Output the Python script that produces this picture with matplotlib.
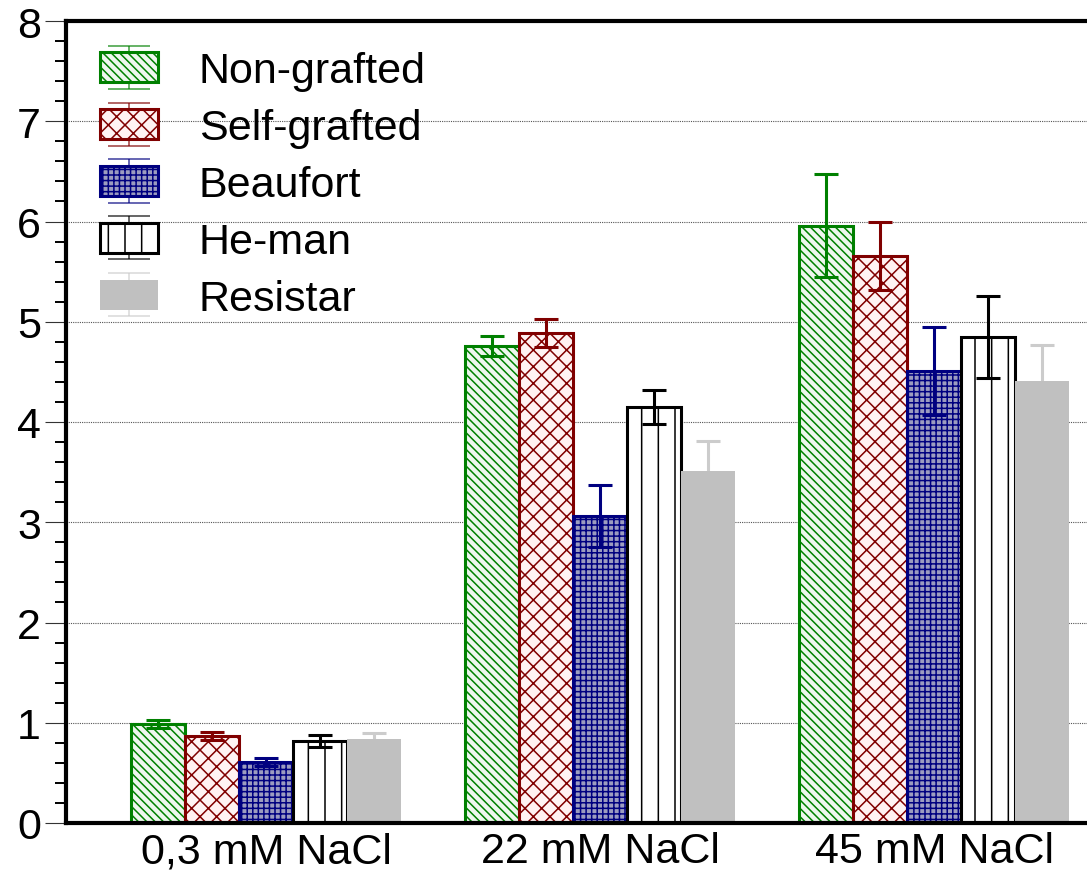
import numpy as np
import matplotlib
matplotlib.use("Agg")
import matplotlib.pyplot as plt
from matplotlib.ticker import MultipleLocator
from matplotlib.legend_handler import HandlerTuple

plt.rcParams['font.family'] = ['Liberation Sans', 'DejaVu Sans']
plt.rcParams['hatch.linewidth'] = 1.1

groups = ["0,3 mM NaCl", "22 mM NaCl", "45 mM NaCl"]
series = ["Non-grafted", "Self-grafted", "Beaufort", "He-man", "Resistar"]

non_grafted = [0.99, 4.76, 5.96]
self_grafted = [0.87, 4.89, 5.66]
beaufort = [0.61, 3.06, 4.51]
he_man = [0.82, 4.15, 4.85]
resistar = [0.84, 3.51, 4.41]

non_grafted_err = [0.04, 0.10, 0.51]
self_grafted_err = [0.04, 0.14, 0.34]
beaufort_err = [0.04, 0.31, 0.44]
he_man_err = [0.06, 0.17, 0.41]
resistar_err = [0.06, 0.30, 0.36]

values = [non_grafted, self_grafted, beaufort, he_man, resistar]
errors = [non_grafted_err, self_grafted_err, beaufort_err, he_man_err, resistar_err]

edge_colors = ["#008000", "#800000", "#000080", "#000000", "#c0c0c0"]
face_colors = ["#eef7ee", "#fff2f2", "#9c9cc0", "#ffffff", "#c0c0c0"]
hatches = ["\\\\\\\\", "xx", "+++", "|", None]
err_colors = ["#008000", "#800000", "#000080", "#000000", "#cccccc"]
err_z = [3, 3, 3, 3, 1.5]

fig = plt.figure(figsize=(10.87, 8.78), dpi=100)
ax = fig.add_axes([66 / 1087, 1 - 824 / 878, 1 - 66 / 1087, (824 - 22) / 878])

x = np.arange(len(groups))
width = 0.162
handles = []
for i, name in enumerate(series):
    pos = x + (i - 2) * width
    lw = 0 if hatches[i] is None else 2.2
    bars = ax.bar(pos, values[i], width, color=face_colors[i], edgecolor=edge_colors[i],
                  hatch=hatches[i], linewidth=lw, zorder=2)
    ax.errorbar(pos, values[i], yerr=errors[i], fmt='none', ecolor=err_colors[i],
                elinewidth=2.2, capsize=8.3, capthick=2.2, zorder=err_z[i])
    # legend-only errorbar (nothing drawn)
    leg_err = ax.errorbar([np.nan], [np.nan], yerr=[1], fmt='none', ecolor=err_colors[i],
                          elinewidth=1.2, capsize=15, capthick=1.2, alpha=0.7)
    handles.append((leg_err, bars.patches[0]))

ax.set_xlim(-0.599, 2.458)
ax.set_ylim(0, 8)
ax.set_xticks(x)
ax.set_xticklabels(groups, fontsize=31)
ax.tick_params(axis='x', length=0, pad=6)
ax.yaxis.set_major_locator(MultipleLocator(1))
ax.yaxis.set_minor_locator(MultipleLocator(0.2))
ax.tick_params(axis='y', which='major', length=15, width=0.8, color='#333333',
               labelsize=31, pad=3)
ax.tick_params(axis='y', which='minor', length=8, width=1.4)

ax.spines['right'].set_visible(False)
for s in ['left', 'top', 'bottom']:
    ax.spines[s].set_linewidth(3)

ax.yaxis.grid(True, linestyle=(0, (1, 1)), color='#555555', linewidth=0.8, zorder=0)
ax.set_axisbelow(True)

ax.legend(handles, series, loc='upper left', bbox_to_anchor=(0.033, 0.962),
          frameon=False, fontsize=31, borderaxespad=0, borderpad=0,
          handlelength=1.35, handleheight=0.7, handletextpad=0.95,
          labelspacing=0.39, handler_map={tuple: HandlerTuple(ndivide=1)})

fig.savefig("out.png", dpi=100)
